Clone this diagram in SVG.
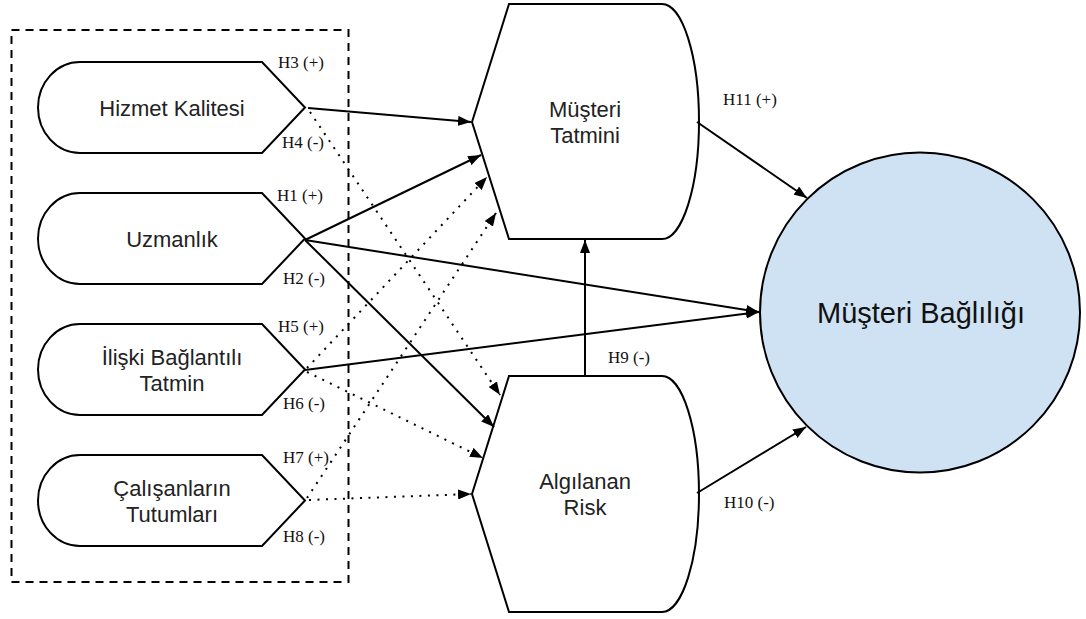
<svg xmlns="http://www.w3.org/2000/svg" width="1086" height="619" viewBox="0 0 1086 619">
<style>
.node{fill:#ffffff;stroke:#000;stroke-width:2}
.circ{fill:#cfe2f3;stroke:#000;stroke-width:2}
.lbl{font-family:"Liberation Sans",Arial,sans-serif;font-size:22px;fill:#222;text-anchor:middle}
.big{font-family:"Liberation Sans",Arial,sans-serif;font-size:29px;fill:#111;text-anchor:middle}
.h{font-family:"Liberation Serif","Times New Roman",serif;font-size:17px;fill:#111}
.solid{fill:none;stroke:#000;stroke-width:2;marker-end:url(#arr)}
.dot{fill:none;stroke:#000;stroke-width:2;stroke-dasharray:2 6.5;marker-end:url(#arr)}
.box{fill:none;stroke:#000;stroke-width:2;stroke-dasharray:8 6}
</style>
<defs>
<marker id="arr" markerWidth="14" markerHeight="10" refX="13" refY="5" orient="auto" markerUnits="userSpaceOnUse">
<path d="M0,0 L13,5 L0,10 Z" fill="#000" stroke="none"/>
</marker>
</defs>
<rect width="1086" height="619" fill="#ffffff"/>
<rect class="box" x="11.5" y="30" width="337" height="552"/>

<g id="hizmet">
<path class="node" d="M80,62 L262,62 L305,107.5 L262,153 L80,153 A42,45.5 0 0 1 80,62 Z"/>
<text class="lbl" x="172" y="116">Hizmet Kalitesi</text>
</g>
<g id="uzmanlik">
<path class="node" d="M80,193 L262,193 L305,238.5 L262,284 L80,284 A42,45.5 0 0 1 80,193 Z"/>
<text class="lbl" x="172" y="247">Uzmanlık</text>
</g>
<g id="iliski">
<path class="node" d="M80,324 L262,324 L305,369.5 L262,415 L80,415 A42,45.5 0 0 1 80,324 Z"/>
<text class="lbl" x="172" y="364.5">İlişki Bağlantılı</text>
<text class="lbl" x="172" y="390.5">Tatmin</text>
</g>
<g id="calisanlar">
<path class="node" d="M80,455 L262,455 L305,500.5 L262,546 L80,546 A42,45.5 0 0 1 80,455 Z"/>
<text class="lbl" x="172" y="495.5">Çalışanların</text>
<text class="lbl" x="172" y="521.5">Tutumları</text>
</g>

<g id="tatmin">
<path class="node" d="M509,4 L662,4 A37,117.5 0 0 1 662,239 L509,239 L472,122 Z"/>
<text class="lbl" x="585" y="116.5">Müşteri</text>
<text class="lbl" x="585" y="142.5">Tatmini</text>
</g>
<g id="risk">
<path class="node" d="M509,376 L662,376 A37,118 0 0 1 662,612 L509,612 L472,494 Z"/>
<text class="lbl" x="585" y="489">Algılanan</text>
<text class="lbl" x="585" y="515">Risk</text>
</g>
<g id="baglilik">
<circle class="circ" cx="920" cy="312.5" r="160"/>
<text class="big" x="921" y="323">Müşteri Bağlılığı</text>
</g>

<g id="connectors">
<line class="solid" x1="308" y1="108" x2="471" y2="122"/>
<line class="dot" x1="310" y1="112" x2="500" y2="395"/>
<line class="solid" x1="305" y1="240" x2="481" y2="155"/>
<line class="solid" x1="305" y1="240" x2="759" y2="312"/>
<line class="solid" x1="305" y1="240" x2="494" y2="427"/>
<line class="solid" x1="305" y1="370" x2="759" y2="312"/>
<line class="dot" x1="307" y1="368" x2="487" y2="177"/>
<line class="dot" x1="307" y1="372" x2="483" y2="458"/>
<line class="dot" x1="307" y1="498" x2="496" y2="213"/>
<line class="dot" x1="309" y1="500" x2="471" y2="494"/>
<line class="solid" x1="585" y1="376" x2="585" y2="240"/>
<line class="solid" x1="697" y1="122" x2="807" y2="198"/>
<line class="solid" x1="697" y1="493" x2="806" y2="427"/>
</g>

<g id="labels">
<text class="h" x="278" y="68">H3 (+)</text>
<text class="h" x="282" y="148">H4 (-)</text>
<text class="h" x="277" y="201">H1 (+)</text>
<text class="h" x="283" y="284">H2 (-)</text>
<text class="h" x="278" y="332">H5 (+)</text>
<text class="h" x="283" y="409">H6 (-)</text>
<text class="h" x="283" y="463">H7 (+)</text>
<text class="h" x="283" y="542">H8 (-)</text>
<text class="h" x="608" y="363">H9 (-)</text>
<text class="h" x="723" y="105">H11 (+)</text>
<text class="h" x="724" y="508">H10 (-)</text>
</g>
</svg>
